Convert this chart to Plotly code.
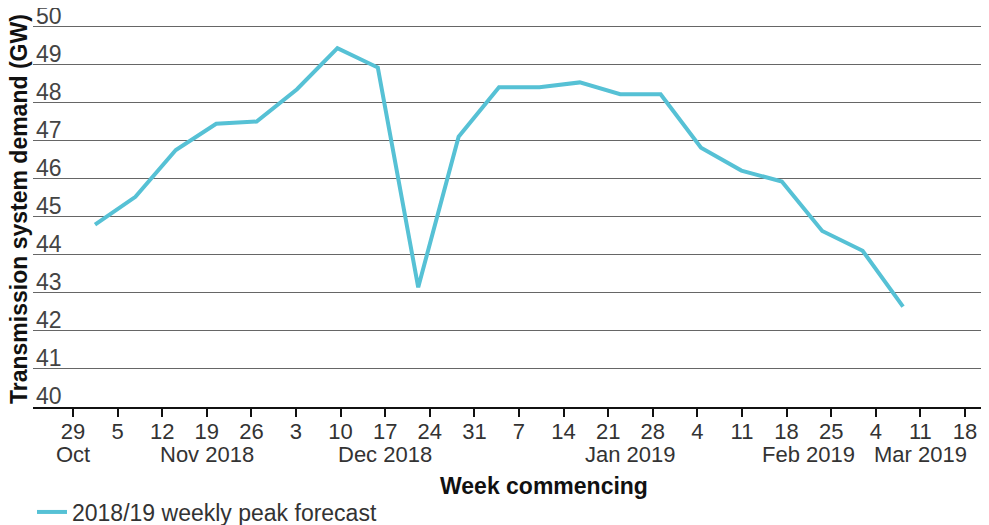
import plotly.graph_objects as go

# week commencing dates for the forecast line
weeks = ["2018-10-29", "2018-11-05", "2018-11-12", "2018-11-19", "2018-11-26",
         "2018-12-03", "2018-12-10", "2018-12-17", "2018-12-24", "2018-12-31",
         "2019-01-07", "2019-01-14", "2019-01-21", "2019-01-28", "2019-02-04",
         "2019-02-11", "2019-02-18", "2019-02-25", "2019-03-04", "2019-03-11",
         "2019-03-18"]
peak_gw = [44.8, 45.53, 46.76, 47.45, 47.51, 48.36, 49.44, 48.93, 43.15, 47.11,
           48.41, 48.41, 48.54, 48.23, 48.23, 46.82, 46.22, 45.93, 44.63, 44.11,
           42.64]

tick_days = ["29", "5", "12", "19", "26", "3", "10", "17", "24", "31", "7", "14",
             "21", "28", "4", "11", "18", "25", "4", "11", "18"]
month_labels = ["Oct", "Nov 2018", "Dec 2018", "Jan 2019", "Feb 2019", "Mar 2019"]
month_pos = [0, 3, 7, 12.5, 16.5, 19]

FONT = "Liberation Sans"
TXT = "#333333"
LINE = "#56C1D5"

# page body adds an 8px offset; figure is sized to fit the window
OFF = 8
W, H = 989 - OFF, 525 - OFF
L, R, B = 33 - OFF, 989 - 981, 525 - 407
T = 25 - OFF

fig = go.Figure()
fig.add_trace(go.Scatter(
    x=weeks, y=peak_gw, xaxis="x2", mode="lines",
    line=dict(color=LINE, width=4),
    name="2018/19 weekly peak forecast",
))

# helpers: reference-screen pixel -> paper coords
def py(px):
    return (407 - px) / 382.0

def pxx(px):
    return (px - 33) / 948.0

annotations = []
for lab, pos in zip(month_labels, month_pos):
    annotations.append(dict(
        text=lab, x=pos, xref="x", y=py(455), yref="paper",
        showarrow=False, yanchor="middle", xanchor="center",
        font=dict(family=FONT, size=22, color=TXT),
    ))
annotations.append(dict(
    text="<b>Week commencing</b>", x=pxx(544), xref="paper", y=py(486), yref="paper",
    showarrow=False, yanchor="middle", xanchor="center",
    font=dict(family=FONT, size=23, color="#111111"),
))
annotations.append(dict(
    text="<b>Transmission system demand (GW)</b>", x=pxx(19), xref="paper",
    y=py(209), yref="paper", textangle=-90,
    showarrow=False, yanchor="middle", xanchor="center",
    font=dict(family=FONT, size=23, color="#111111"),
))

fig.update_layout(
    width=W, height=H,
    margin=dict(l=L, r=R, t=T, b=B, autoexpand=False),
    plot_bgcolor="white", paper_bgcolor="white",
    font=dict(family=FONT, size=22, color=TXT),
    showlegend=True,
    legend=dict(orientation="h", x=pxx(32), y=py(512), yanchor="middle",
                xanchor="left", font=dict(size=23, color=TXT),
                itemwidth=30),
    annotations=annotations,
    xaxis=dict(
        range=[-0.897, 20.36], tickmode="array",
        tickvals=list(range(len(tick_days))), ticktext=tick_days,
        showgrid=False, zeroline=False,
        showline=True, linecolor="#111111", linewidth=2,
        ticks="outside", ticklen=8, tickwidth=2, tickcolor="#111111",
        tickfont=dict(size=22), ticklabelstandoff=-4,
    ),
    xaxis2=dict(
        type="category", overlaying="x", range=[-1.535, 21.93],
        visible=False,
    ),
    yaxis=dict(
        range=[40, 50.05], dtick=1, showgrid=True, gridcolor="#666666",
        gridwidth=1.3, zeroline=False, showline=False, ticks="",
        ticklabelposition="inside", ticklabelshift=-11,
        ticklabeloverflow="allow", tickfont=dict(size=23),
    ),
)

fig.write_html("out.html")
